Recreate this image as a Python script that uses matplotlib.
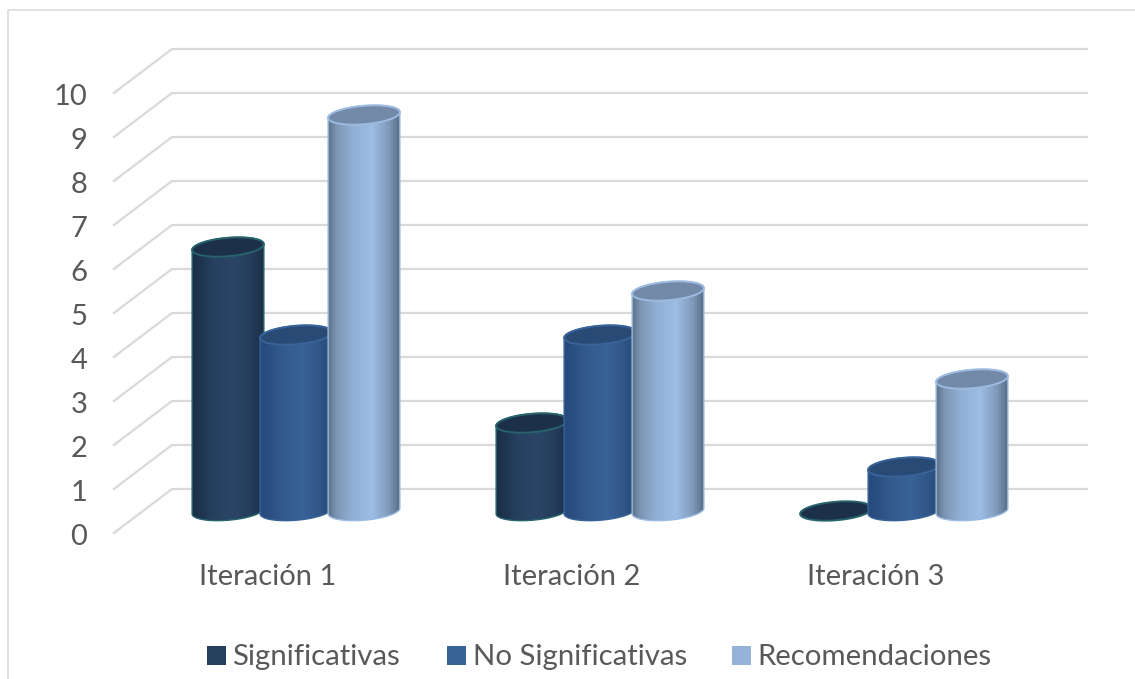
import matplotlib
matplotlib.use("Agg")
import matplotlib.pyplot as plt
import numpy as np
from matplotlib.colors import LinearSegmentedColormap
from matplotlib.patches import Polygon, Rectangle

plt.rcParams['font.family'] = ['Lato', 'DejaVu Sans']

# ----- Data -----
categories = ["Iteración 1", "Iteración 2", "Iteración 3"]
series_names = ["Significativas", "No Significativas", "Recomendaciones"]
significativas = [6, 2, 0]
no_significativas = [4, 4, 1]
recomendaciones = [9, 5, 3]
y_ticks = list(range(0, 11))

series_values = [significativas, no_significativas, recomendaciones]

# ----- Styles -----
W, H = 1135, 679
text_color = "#595959"
grid_color = "#d9d9d9"
body_stops = [
    [(0, "#1a2d44"), (0.3, "#26405f"), (0.6, "#2a4566"), (0.85, "#243c5a"), (1, "#1a2d44")],
    [(0, "#27487a"), (0.3, "#325a8c"), (0.6, "#386398"), (0.85, "#2f5584"), (1, "#264a76")],
    [(0, "#5d7088"), (0.12, "#7d96b4"), (0.35, "#92b0d6"), (0.62, "#9dbde3"), (0.85, "#7f99ba"), (1, "#5a6c84")],
]
top_colors = ["#1c304a", "#2a4a76", "#7389a8"]
edge_colors = ["#27636b", "#38649a", "#9cbbe0"]
legend_colors = ["#25405f", "#386398", "#95b3d9"]

# bar geometry in data units
bar_width = 0.2237   # one cylinder step
half_w = 0.118
rim_h = 0.21         # half height of the elliptical cap
rim_tilt = 0.065     # right side of the cap sits a bit higher
depth = 0.5          # vertical shift between front and back of the floor
floor_left = -0.599
wall_left = -0.408
wall_right = 2.602

fig = plt.figure(figsize=(W / 100, H / 100), dpi=100)
ax = fig.add_axes([0, 0, 1, 1])
ax.set_xlim(-296 / 304, (W - 296) / 304)
ax.set_ylim((511 - H) / 44, 511 / 44)
ax.axis("off")


def px(x, y):
    # pixel position (from top left) to axes fraction, for the non-data furniture
    return x / W, 1 - y / H


def rim(cx, y, t):
    return cx + half_w * np.cos(t), y + rim_h * np.sin(t) + rim_tilt * np.cos(t)


# chart frame
x0, y0 = px(8, 10)
ax.plot([x0, x0, 1], [0, y0, y0], color=grid_color, lw=1.1, transform=ax.transAxes, zorder=0)

# walls: back gridlines plus the diagonal floor/side lines
for v in y_ticks:
    ax.plot([floor_left, wall_left, wall_right], [v - depth, v + depth, v + depth],
            color=grid_color, lw=1.6, solid_joinstyle="miter", zorder=1)
    ax.text(floor_left - 0.088, v - depth - 0.08, str(v), ha="right", va="center",
            fontsize=21, color=text_color)

# cylinders, left to right so each one covers its neighbour
z = 2
t_lower = np.linspace(np.pi, 2 * np.pi, 60)
t_upper = np.linspace(0, np.pi, 60)
t_full = np.linspace(0, 2 * np.pi, 120)
for i, cat in enumerate(categories):
    for s, values in enumerate(series_values):
        val = values[i]
        cx = i + (s - 1) * bar_width
        if val > 0:
            bx, by = rim(cx, 0, t_lower)
            tx, ty = rim(cx, val, t_upper)
            body_xy = np.column_stack([np.r_[bx, tx], np.r_[by, ty]])
            body = Polygon(body_xy, closed=True, facecolor="none", edgecolor=edge_colors[s],
                           lw=1.0, zorder=z + 1)
            cmap = LinearSegmentedColormap.from_list(f"body{s}", body_stops[s])
            img = ax.imshow(np.linspace(0, 1, 256).reshape(1, -1), cmap=cmap, aspect="auto",
                            extent=[cx - half_w, cx + half_w, -1, val + 1],
                            interpolation="bilinear", zorder=z)
            ax.add_patch(body)
            img.set_clip_path(body)
        ex, ey = rim(cx, val, t_full)
        ax.add_patch(Polygon(np.column_stack([ex, ey]), closed=True, facecolor=top_colors[s],
                             edgecolor=edge_colors[s], lw=1.4, zorder=z + 2))
        z += 3

# restore limits, imshow resets them
ax.set_xlim(-296 / 304, (W - 296) / 304)
ax.set_ylim((511 - H) / 44, 511 / 44)

# category labels
for i, cat in enumerate(categories):
    ax.text(i - 0.094, -1.5, cat, ha="center", va="center", fontsize=21, color=text_color)

# ----- Custom legend -----
swatch_x = [207, 447, 732]
text_x = [232, 473, 757]
for name, sx, tx, col in zip(series_names, swatch_x, text_x, legend_colors):
    fx, fy = px(sx, 665)
    ax.add_patch(Rectangle((fx, fy), 19 / W, 19 / H, facecolor=col, edgecolor="none",
                           transform=ax.transAxes, zorder=50))
    fx, fy = px(tx, 657)
    ax.text(fx, fy, name, ha="left", va="center", fontsize=21.2, color=text_color,
            transform=ax.transAxes)

fig.savefig("out.png", dpi=100)
